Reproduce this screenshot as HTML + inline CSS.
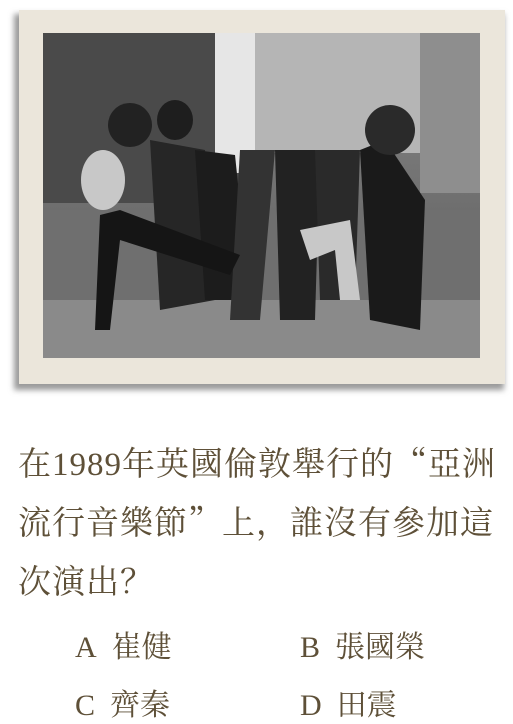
<!DOCTYPE html>
<html><head><meta charset="utf-8"><style>
html,body{margin:0;padding:0;background:#fff;}
body{width:513px;height:718px;position:relative;overflow:hidden;font-family:"Liberation Serif","Noto Serif CJK SC","Noto Sans CJK TC",serif;color:#5e5038;}
.q{position:absolute;left:18px;font-size:33px;line-height:56px;letter-spacing:1px;width:500px;white-space:nowrap;}
.p{font-family:"Noto Serif CJK SC",serif;}
.opt{position:absolute;font-size:30px;}
</style></head><body>
<svg width="513" height="400" style="position:absolute;left:0;top:0">
<defs>
<filter id="sh" x="-10%" y="-10%" width="120%" height="120%"><feGaussianBlur stdDeviation="3"/></filter>
<linearGradient id="sky" x1="0" y1="0" x2="0" y2="1"><stop offset="0" stop-color="#8a8a8a"/><stop offset="0.55" stop-color="#6e6e6e"/><stop offset="0.6" stop-color="#5a5a5a"/><stop offset="1" stop-color="#777"/></linearGradient>
</defs>
<rect x="14" y="14" width="490" height="376" fill="#9a9a9a" filter="url(#sh)"/>
<rect x="19" y="10" width="486" height="374" fill="#ebe6db"/>
<g>
<rect x="43" y="33" width="437" height="325" fill="url(#sky)"/>
<rect x="43" y="33" width="200" height="170" fill="#4a4a4a"/>
<rect x="215" y="33" width="40" height="140" fill="#e6e6e6"/>
<rect x="255" y="33" width="170" height="120" fill="#b5b5b5"/>
<rect x="420" y="33" width="60" height="160" fill="#8e8e8e"/>
<rect x="43" y="210" width="437" height="148" fill="#6f6f6f"/>
<rect x="43" y="300" width="437" height="58" fill="#8a8a8a"/>
<ellipse cx="130" cy="125" rx="22" ry="22" fill="#222"/>
<ellipse cx="175" cy="120" rx="18" ry="20" fill="#1e1e1e"/>
<ellipse cx="103" cy="180" rx="22" ry="30" fill="#c8c8c8"/>
<polygon points="150,140 205,150 215,300 160,310" fill="#262626"/>
<polygon points="195,150 235,155 250,300 205,300" fill="#1c1c1c"/>
<polygon points="240,150 275,150 260,320 230,320" fill="#333"/>
<polygon points="275,150 320,150 315,320 280,320" fill="#222"/>
<polygon points="315,150 360,150 355,300 320,300" fill="#2a2a2a"/>
<polygon points="360,150 385,140 425,200 420,330 370,320" fill="#1a1a1a"/>
<ellipse cx="390" cy="130" rx="25" ry="25" fill="#2a2a2a"/>
<polygon points="100,215 120,210 240,255 230,275 120,240 110,330 95,330" fill="#151515"/>
<polygon points="300,230 350,220 360,300 340,300 335,250 310,260" fill="#c8c8c8"/>
</g>
</svg>
<div class="q" style="top:434px">在1989年英國倫敦舉行的<span class="p">“</span>亞洲<br>流行音樂節<span class="p">”</span>上<span class="p">，</span>誰沒有參加這<br>次演出<span class="p">？</span></div>
<div class="opt" style="left:75px;top:622px">A&nbsp; 崔健</div>
<div class="opt" style="left:300px;top:622px">B&nbsp; 張國榮</div>
<div class="opt" style="left:75px;top:680px">C&nbsp; 齊秦</div>
<div class="opt" style="left:300px;top:680px">D&nbsp; 田震</div>
</body></html>
